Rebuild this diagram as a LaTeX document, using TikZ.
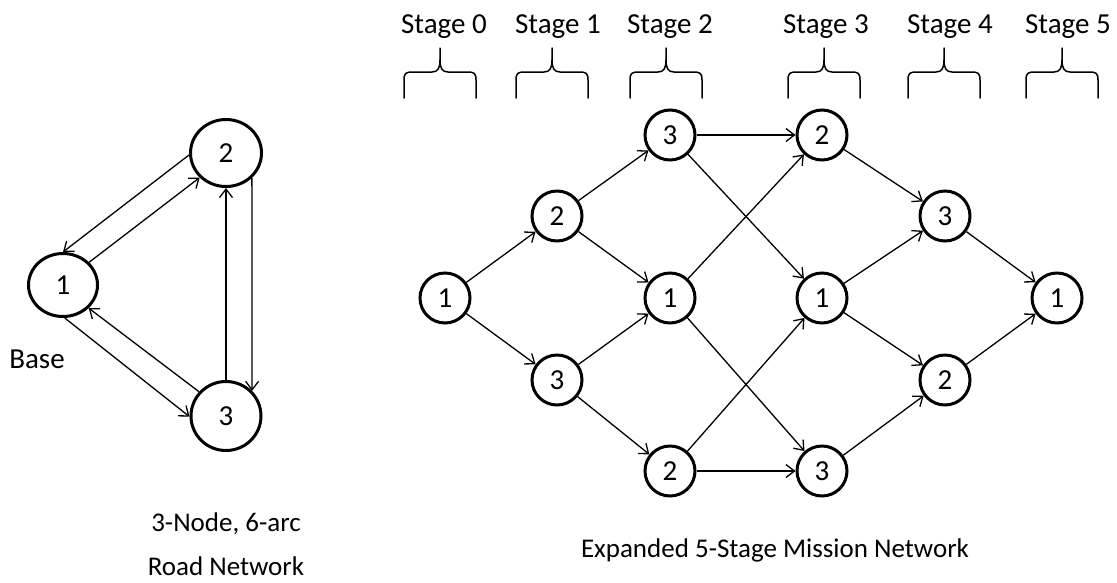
\documentclass[tikz,border=0pt]{standalone}
\usepackage{fontspec}
\setmainfont{Carlito}
\usetikzlibrary{arrows.meta,shapes.geometric}
\begin{document}
\begin{tikzpicture}[x=1pt,y=-1pt,
  stnode/.style={circle,draw,line width=3pt,minimum size=50pt,inner sep=0pt,font=\fontsize{29}{29}\selectfont},
  rdnode/.style={ellipse,draw,line width=3pt,inner sep=0pt,font=\fontsize{29}{29}\selectfont},
  arc/.style={line width=1.3pt,-{Straight Barb[length=8.5pt,width=13pt]}},
  lbl/.style={anchor=base,inner sep=0pt,font=\fontsize{29}{35}\selectfont},
  caption/.style={anchor=base,inner sep=0pt,font=\fontsize{27}{33}\selectfont},
  bracepath/.style={line width=1.5pt,line cap=round,line join=round},
  stagebrace/.pic={
    \draw[bracepath] (-36,26) -- (-36,8) .. controls (-36,1) and (-34,0) .. (-27,0) -- (-8,0)
      .. controls (-2,0) and (0,-4) .. (0,-12) -- (0,-24);
    \draw[bracepath] (36,26) -- (36,8) .. controls (36,1) and (34,0) .. (27,0) -- (8,0)
      .. controls (2,0) and (0,-4) .. (0,-12);
  }
]
\useasboundingbox (0,0) rectangle (1117,582);

% ---------- road network ----------
\node[rdnode,minimum width=69pt,minimum height=63pt] (L1) at (63,285) {1};
\node[rdnode,minimum width=71pt,minimum height=67pt] (L2) at (226,153) {2};
\node[rdnode,minimum width=70pt,minimum height=69pt] (L3) at (226,416) {3};

\draw[arc] (L2.183) -- (L1.90);
\draw[arc] (L1.41) -- (L2.223);
\draw[arc] (L1.273) -- (L3.181);
\draw[arc] (L3.138) -- (L1.318);
\draw[arc] (L3.90) -- (L2.270);
\draw[arc] (L2.316) -- (L3.44);

\node[lbl] (base) at (37,368) {Base};
\node[caption] (cap1) at (226,531) {3-Node, 6-arc};
\node[caption] (cap2) at (226,575) {Road Network};

% ---------- stage labels and braces ----------
\foreach \lx/\bx/\k in {444/440/0, 558/552/1, 670/666/2, 826/824/3, 950/944/4, 1068/1062/5}{
  \node[lbl] (stage\k) at (\lx,33) {Stage \k};
  \pic at (\bx,72) {stagebrace};
}

% ---------- expanded network ----------
\node[stnode] (s0a) at (445,298) {1};
\node[stnode] (s1a) at (557,216) {2};
\node[stnode] (s1b) at (557,380) {3};
\node[stnode] (s2a) at (670,135) {3};
\node[stnode] (s2b) at (670,298) {1};
\node[stnode] (s2c) at (670,471) {2};
\node[stnode] (s3a) at (822,135) {2};
\node[stnode] (s3b) at (822,298) {1};
\node[stnode] (s3c) at (822,471) {3};
\node[stnode] (s4a) at (945,216) {3};
\node[stnode] (s4b) at (945,380) {2};
\node[stnode] (s5a) at (1057,298) {1};

\foreach \a/\b in {s0a/s1a, s0a/s1b,
                   s1a/s2a, s1a/s2b, s1b/s2b, s1b/s2c,
                   s2a/s3a, s2a/s3b, s2b/s3a, s2b/s3c, s2c/s3b, s2c/s3c,
                   s3a/s4a, s3b/s4a, s3b/s4b, s3c/s4b,
                   s4a/s5a, s4b/s5a}
  \draw[arc] (\a) -- (\b);

\node[caption] (title) at (775,557) {Expanded 5-Stage Mission Network};
\end{tikzpicture}
\end{document}
